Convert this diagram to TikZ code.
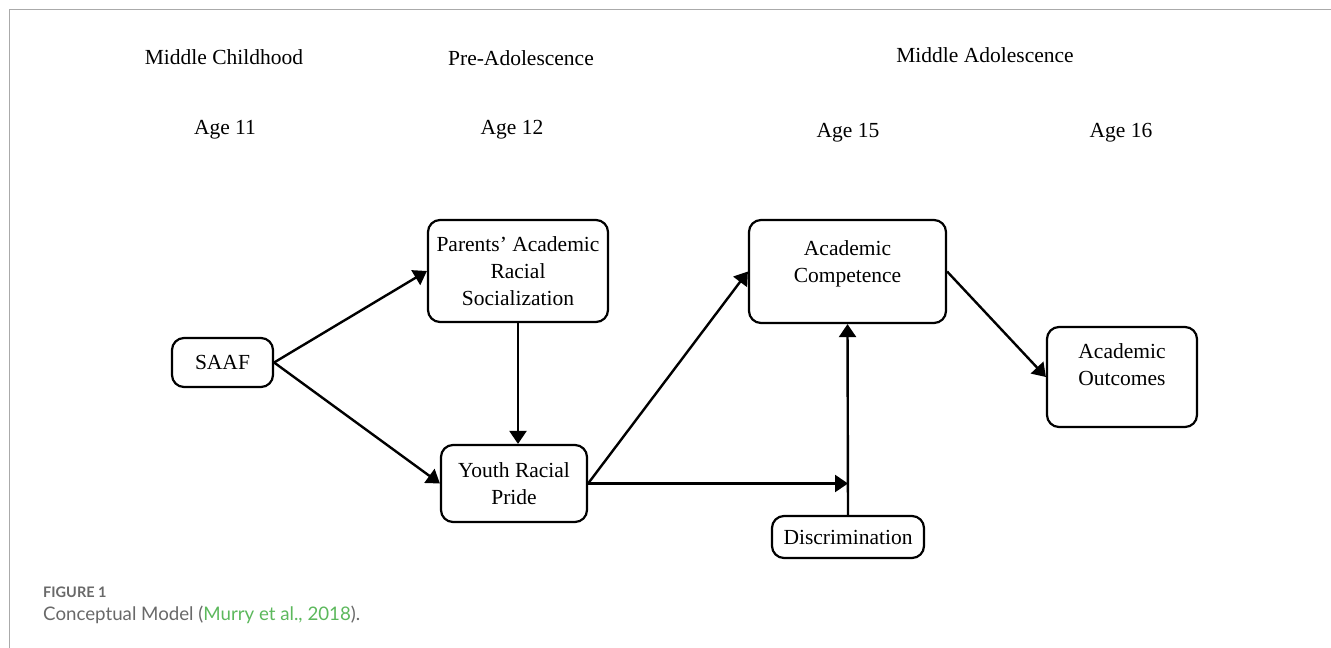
\documentclass[tikz,border=0pt]{standalone}
\usepackage{fontspec}
\setmainfont{Liberation Serif}
\newfontfamily\capfont{Lato}
\usetikzlibrary{arrows.meta}
\definecolor{capgray}{RGB}{105,105,105}
\definecolor{capgreen}{RGB}{92,184,92}
\definecolor{framegray}{RGB}{170,170,170}
\tikzset{
  box/.style={draw, rounded corners=12pt, line width=2.2pt, inner sep=0pt, align=center,
    font=\fontsize{21.5}{27}\selectfont},
  txt/.style={inner sep=0pt, align=center, font=\fontsize{21.5}{27}\selectfont},
  hdr/.style={font=\fontsize{21.5}{25}\selectfont, inner sep=0pt},
  arr/.style={line width=2.4pt, -{Triangle[length=13pt,width=17pt]}}
}
\begin{document}
\begin{tikzpicture}[x=1pt,y=-1pt]
\useasboundingbox (0,0) rectangle (1331,648);
\draw[framegray, line width=1.5pt] (9.5,648) -- (9.5,9.5) -- (1331,9.5);

% headers
\node[hdr] (h1) at (224,57) {Middle Childhood};
\node[hdr] (h2) at (521,58) {Pre-Adolescence};
\node[hdr] (h3) at (985,55) {Middle Adolescence};
\node[hdr] (a1) at (225,130) {Age 11};
\node[hdr] (a2) at (512,130) {Age 12};
\node[hdr] (a3) at (848,133) {Age 15};
\node[hdr] (a4) at (1121,133) {Age 16};

% boxes
\node[box, minimum width=101pt, minimum height=49pt] (saaf) at (222.5,362.5) {SAAF};
\node[box, minimum width=180pt, minimum height=102pt] (par) at (518,271) {Parents’ Academic\\Racial\\Socialization};
\node[box, minimum width=146pt, minimum height=77pt] (youth) at (514,483.5) {Youth Racial\\Pride};
\node[box, minimum width=197pt, minimum height=103pt] (ac) at (847.5,271.5) {};
\node[txt] (actxt) at ([yshift=8pt]ac.center) {Academic\\Competence};
\node[box, minimum width=152pt, minimum height=42pt] (disc) at (848,537) {Discrimination};
\node[box, minimum width=150pt, minimum height=100pt] (out) at (1122,377) {};
\node[txt] (outtxt) at ([yshift=12pt]out.center) {Academic\\Outcomes};

% connectors
\coordinate (meet) at (disc.north |- youth.east);
\draw[arr] (saaf.east) -- (par.west);
\draw[arr] (saaf.east) -- (youth.west);
\draw[arr] (par.south) -- (par.south |- youth.north);
\draw[arr] (youth.east) -- (ac.west);
\draw[arr] (youth.east) -- (meet);
\draw[arr] (disc.north) -- (ac.south);
\draw[arr] (ac.east) -- (out.west);

% caption
\node[anchor=west, inner sep=0pt, text=capgray, font=\capfont\bfseries\fontsize{14.5}{16}\selectfont] (fig) at (43,592) {FIGURE 1};
\node[anchor=west, inner sep=0pt, text=capgray, font=\capfont\fontsize{18.7}{21}\selectfont] (cap) at (43,615) {Conceptual Model (\textcolor{capgreen}{Murry et al., 2018}).};
\end{tikzpicture}
\end{document}
